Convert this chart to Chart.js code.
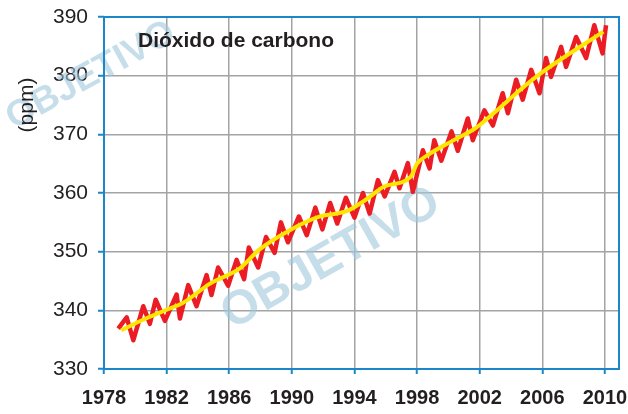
<!DOCTYPE html>
<html>
<head>
<meta charset="utf-8">
<script src="https://cdn.jsdelivr.net/npm/chart.js@4.4.1/dist/chart.umd.min.js"></script>
<style>
  html, body { margin: 0; padding: 0; background: #fff; }
  #wrap { width: 628px; height: 414px; position: relative; }
</style>
</head>
<body>
<div id="wrap"><canvas id="co2Chart"></canvas></div>
<script>
// Données (Mauna Loa, ppm)
const redYears = [1978.91, 1979.45, 1979.87, 1980.51, 1980.93, 1981.30, 1981.89, 1982.64, 1982.85, 1983.38,
  1983.91, 1984.55, 1984.87, 1985.29, 1985.93, 1986.47, 1986.95, 1987.25, 1987.85, 1988.35,
  1988.90, 1989.30, 1989.75, 1990.45, 1990.95, 1991.50, 1991.95, 1992.45, 1992.90, 1993.45,
  1994.00, 1994.54, 1994.97, 1995.50, 1995.93, 1996.56, 1996.88, 1997.41, 1997.73, 1998.37,
  1998.80, 1999.10, 1999.55, 2000.20, 2000.60, 2001.24, 2001.56, 2002.30, 2002.84, 2003.47,
  2003.80, 2004.33, 2004.75, 2005.29, 2005.82, 2006.24, 2006.56, 2007.20, 2007.52, 2008.16,
  2008.80, 2009.32, 2009.85, 2010.07];
const redPpm = [336.9, 338.8, 334.9, 340.7, 337.7, 341.8, 338.2, 342.7, 338.6, 344.3,
  340.7, 346.0, 342.6, 347.3, 344.2, 348.6, 345.3, 350.7, 347.3, 352.5,
  349.8, 355.0, 351.6, 356.0, 352.8, 357.5, 353.8, 358.3, 354.8, 359.2,
  355.8, 360.0, 356.5, 362.2, 359.4, 363.6, 360.8, 365.1, 360.2, 367.3,
  364.2, 369.0, 365.5, 370.5, 367.2, 372.7, 369.0, 374.1, 371.5, 377.0,
  373.6, 379.3, 375.9, 381.0, 377.0, 383.0, 379.8, 384.9, 381.5, 386.6,
  383.0, 388.6, 383.8, 388.6];

const trendYears = [1979.1, 1980.5, 1982.0, 1983.0, 1984.8, 1986.7, 1987.9, 1989.9, 1991.8, 1993.5,
  1994.7, 1995.9, 1997.6, 1998.0, 1998.7, 2000.2, 2001.7, 2002.0, 2005.6, 2009.9];
const trendPpm = [336.6, 338.4, 340.1, 341.2, 344.6, 347.2, 350.3, 353.7, 356.0, 356.9,
  358.8, 361.1, 362.8, 365.0, 366.5, 368.8, 371.0, 371.6, 379.8, 387.5];

const xTicks = [1978, 1982, 1986, 1990, 1994, 1998, 2002, 2006, 2010];
const yTicks = [330, 340, 350, 360, 370, 380, 390];

const BLUE = '#1b86c9';
const GRID = '#a3a3a3';
const TEXT = '#231f20';

function toPoints(xs, ys) {
    return xs.map((x, i) => ({ x: x, y: ys[i] }));
}

// Cadre bleu, filigrane et textes dans la zone du graphique
const decorPlugin = {
    id: 'decor',
    beforeDatasetsDraw(chart) {
        const ctx = chart.ctx;
        ctx.save();
        ctx.fillStyle = 'rgba(160, 200, 220, 0.6)';
        ctx.font = 'bold 48px "Liberation Sans", Arial, sans-serif';
        ctx.translate(232, 330);
        ctx.rotate(-29.5 * Math.PI / 180);
        ctx.fillText('OBJETIVO', 0, 0);
        ctx.restore();

        ctx.save();
        ctx.fillStyle = 'rgba(160, 200, 220, 0.6)';
        ctx.font = 'bold 37px "Liberation Sans", Arial, sans-serif';
        ctx.translate(14, 130);
        ctx.rotate(-29 * Math.PI / 180);
        ctx.fillText('OBJETIVO', 0, 0);
        ctx.restore();
    },
    afterDraw(chart) {
        const ctx = chart.ctx;
        const a = chart.chartArea;
        ctx.save();
        ctx.strokeStyle = BLUE;
        ctx.lineWidth = 2;
        ctx.strokeRect(a.left, a.top, a.right - a.left, a.bottom - a.top);

        ctx.fillStyle = TEXT;
        ctx.font = 'bold 21px "Liberation Sans", Arial, sans-serif';
        ctx.textBaseline = 'alphabetic';
        ctx.fillText('Dióxido de carbono', 138, 47);

        ctx.font = '21px "Liberation Sans", Arial, sans-serif';
        ctx.translate(27, 105);
        ctx.rotate(-Math.PI / 2);
        ctx.textAlign = 'center';
        ctx.textBaseline = 'middle';
        ctx.fillText('(ppm)', 0, 0);
        ctx.restore();
    }
};

const ctx = document.getElementById('co2Chart').getContext('2d');
new Chart(ctx, {
    type: 'line',
    data: {
        datasets: [
            {
                label: 'Tendência',
                data: toPoints(trendYears, trendPpm),
                borderColor: '#ffe500',
                borderWidth: 4,
                pointRadius: 0,
                cubicInterpolationMode: 'monotone',
                fill: false,
                order: 1
            },
            {
                label: 'CO2',
                data: toPoints(redYears, redPpm),
                borderColor: '#ec1c24',
                borderWidth: 4.5,
                pointRadius: 0,
                tension: 0,
                borderJoinStyle: 'round',
                fill: false,
                order: 2
            }
        ]
    },
    options: {
        responsive: true,
        maintainAspectRatio: false,
        animation: false,
        layout: { padding: { top: 17, right: 9, left: 0, bottom: 0 } },
        plugins: {
            legend: { display: false },
            tooltip: { enabled: false }
        },
        scales: {
            x: {
                type: 'linear',
                min: 1978,
                max: 2010.9,
                afterBuildTicks: (scale) => { scale.ticks = xTicks.map(v => ({ value: v })); },
                afterFit: (scale) => {
                    scale.height = 45;
                    scale.paddingLeft = 0;
                    scale.paddingRight = 0;
                },
                grid: { color: GRID, lineWidth: 1.5, tickColor: BLUE, tickLength: 5, tickWidth: 2 },
                border: { display: false },
                ticks: {
                    color: TEXT,
                    padding: 12,
                    maxRotation: 0,
                    font: { family: '"Liberation Sans", Arial, sans-serif', size: 20, weight: 'bold' },
                    callback: (v) => String(v)
                }
            },
            y: {
                min: 330,
                max: 390,
                afterBuildTicks: (scale) => { scale.ticks = yTicks.map(v => ({ value: v })); },
                afterFit: (scale) => {
                    scale.width = 104;
                    scale.paddingTop = 0;
                    scale.paddingBottom = 0;
                },
                grid: { color: GRID, lineWidth: 1.5, tickColor: BLUE, tickLength: 6, tickWidth: 2 },
                border: { display: false },
                ticks: {
                    color: TEXT,
                    padding: 10,
                    font: { family: '"Liberation Sans", Arial, sans-serif', size: 21 }
                }
            }
        }
    },
    plugins: [decorPlugin]
});
</script>
</body>
</html>
